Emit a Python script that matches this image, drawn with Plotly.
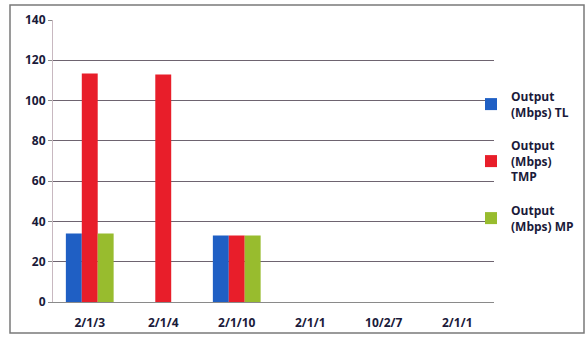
import plotly.graph_objects as go

# Output throughput per configuration
categories = ["2/1/3", "2/1/4", "2/1/10", "2/1/1", "10/2/7", "2/1/1"]
output_tl = [34, None, 33, None, None, None]
output_tmp = [113.5, 113, 33, None, None, None]
output_mp = [34, None, 33, None, None, None]

series_names = ["<b>Output<br>(Mbps) TL</b>", "<b>Output<br>(Mbps)<br>TMP</b>", "<b>Output<br>(Mbps) MP</b>"]
series_colors = ["#1F5FC4", "#E81E2A", "#98BC2E"]

y_ticks = [0, 20, 40, 60, 80, 100, 120, 140]

# numeric positions so repeated labels stay separate categories
positions = list(range(len(categories)))

fig = go.Figure()
for i, (name, vals, col) in enumerate(zip(series_names, [output_tl, output_tmp, output_mp], series_colors)):
    fig.add_trace(go.Bar(
        x=positions, y=vals, name=name, legendgroup="g%d" % i,
        marker=dict(color=col, line=dict(width=0)),
    ))

font_fam = "Open Sans, Lato, sans-serif"

fig.update_layout(
    width=586, height=340,
    barmode="group", bargap=0.35, bargroupgap=0,
    paper_bgcolor="white", plot_bgcolor="white",
    margin=dict(l=53, r=92, t=20, b=38, autoexpand=False),
    font=dict(family=font_fam, size=12, color="#1A1A3A"),
    showlegend=True,
    legend=dict(
        xref="container", yref="container",
        x=471 / 586, xanchor="left", y=1 - 82 / 340, yanchor="top",
        font=dict(size=12, family=font_fam, color="#1A1A3A"),
        itemwidth=30, tracegroupgap=15,
        bgcolor="rgba(0,0,0,0)",
    ),
    xaxis=dict(
        tickmode="array", tickvals=positions,
        ticktext=["<b>%s</b>" % c for c in categories],
        range=[-0.5, len(categories) - 0.5],
        showgrid=False, zeroline=False,
        showline=True, linecolor="#8A8A8A", linewidth=1,
        ticks="", tickfont=dict(size=12, color="#1A1A3A"),
        ticklabelstandoff=10,
    ),
    yaxis=dict(
        range=[0, 140], tickmode="array", tickvals=y_ticks,
        ticktext=["<b>%d</b>" % v for v in y_ticks],
        showgrid=True, gridcolor="#6E6470", gridwidth=1,
        zeroline=False,
        showline=True, linecolor="#C8B8C0", linewidth=1,
        ticks="outside", ticklen=4, tickcolor="#8A8A8A",
        tickfont=dict(size=12, color="#1A1A3A"),
    ),
)

# outer chart border
fig.add_shape(type="rect", xref="paper", yref="paper",
              x0=-43/441, x1=1 + 90/441, y0=-31/282, y1=1 + 15/282,
              line=dict(color="#7A7A7A", width=1.5))

fig.write_html("out.html")
